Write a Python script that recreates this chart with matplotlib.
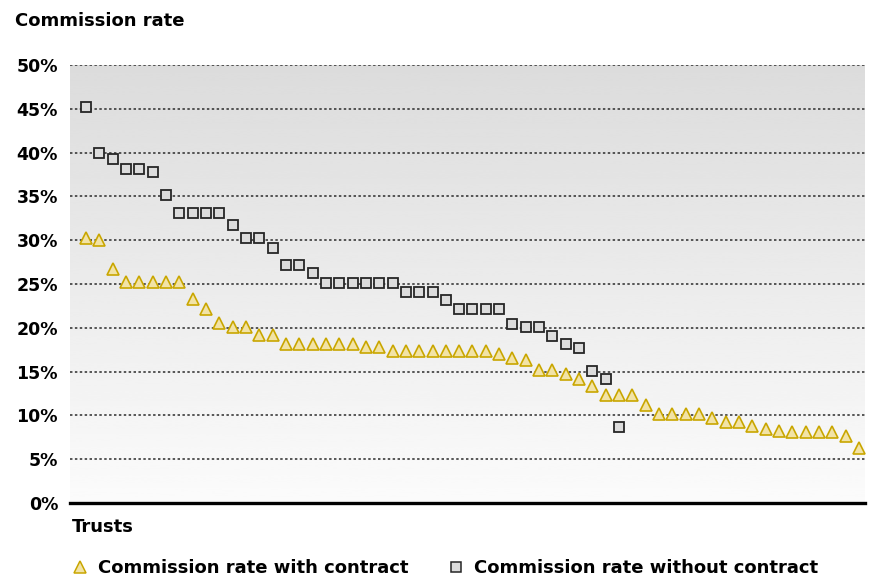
import numpy as np
import matplotlib
matplotlib.use("Agg")
import matplotlib.pyplot as plt
from matplotlib.lines import Line2D

plt.rcParams['font.family'] = ['DejaVu Sans']

# Commission rates (%) per trust, sorted within each series
with_contract = [30.3, 30.0, 26.7, 25.2, 25.2, 25.2, 25.2, 25.2, 23.25, 22.2,
                 20.6, 20.1, 20.1, 19.2, 19.2, 18.2, 18.2, 18.2, 18.2, 18.2,
                 18.2, 17.8, 17.8, 17.3, 17.3, 17.3, 17.3, 17.3, 17.3, 17.3,
                 17.3, 17.0, 16.5, 16.3, 15.2, 15.2, 14.7, 14.2, 13.3, 12.3,
                 12.3, 12.3, 11.15, 10.2, 10.2, 10.2, 10.2, 9.75, 9.25, 9.25,
                 8.8, 8.4, 8.2, 8.05, 8.05, 8.05, 8.05, 7.7, 6.3]
without_contract = [45.2, 39.9, 39.3, 38.1, 38.1, 37.8, 35.2, 33.1, 33.1, 33.1,
                    33.1, 31.7, 30.2, 30.2, 29.1, 27.2, 27.2, 26.2, 25.1, 25.1,
                    25.1, 25.1, 25.1, 25.1, 24.1, 24.1, 24.1, 23.2, 22.2, 22.2,
                    22.2, 22.2, 20.4, 20.1, 20.1, 19.1, 18.2, 17.7, 15.1, 14.15,
                    8.7]
y_ticks = [0, 5, 10, 15, 20, 25, 30, 35, 40, 45, 50]
y_tick_labels = [f"{t}%" for t in y_ticks]

label_with = "Commission rate with contract"
label_without = "Commission rate without contract"

W, H = 869, 579
fig = plt.figure(figsize=(W / 100, H / 100), dpi=100)
ax = fig.add_axes([70 / W, 1 - 503 / H, (865 - 70) / W, (503 - 65) / H])

x_with = np.arange(len(with_contract))
x_without = np.arange(len(without_contract))

X0, X1 = -1.2, 58.45

# vertical grey-to-white gradient behind the plot (darker at the top)
grad = np.linspace(0.862, 0.985, 256).reshape(-1, 1)
ax.imshow(grad, extent=[X0, X1, 0, 50], origin='upper', aspect='auto',
          cmap='gray', vmin=0, vmax=1, zorder=0, interpolation='bicubic')
ax.set_xlim(X0, X1)
ax.set_ylim(0, 50)

for t in y_ticks[1:]:
    ax.axhline(t, color='#2b2b2b', lw=1.1, ls=(0, (1.6, 1.6)), zorder=1)

tri_face = '#f2e3a6'
tri_edge = '#c9a600'
sq_face = '#dcdcdc'
sq_edge = '#262626'

ax.plot(x_without, without_contract, ls='none', marker='s', ms=7,
        mfc=sq_face, mec=sq_edge, mew=1.3, zorder=3)
ax.plot(x_with, with_contract, ls='none', marker='^', ms=9,
        mfc=tri_face, mec=tri_edge, mew=1.2, zorder=3)

for s in ['top', 'right', 'left']:
    ax.spines[s].set_visible(False)
ax.spines['bottom'].set_linewidth(2.4)
ax.spines['bottom'].set_color('black')
ax.spines['bottom'].set_zorder(4)

ax.set_xticks([])
ax.set_yticks(y_ticks)
ax.set_yticklabels(y_tick_labels, fontsize=12.5, fontweight='bold')
ax.tick_params(axis='y', length=0, pad=8.6)

fig.text(15 / W, 1 - 21 / H, "Commission rate", fontsize=13, fontweight='bold',
         va='center', ha='left')
fig.text(72 / W, 1 - 527 / H, "Trusts", fontsize=13, fontweight='bold',
         va='center', ha='left')

handles = [
    Line2D([], [], ls='none', marker='^', ms=8, mfc=tri_face, mec=tri_edge, mew=1.1),
    Line2D([], [], ls='none', marker='s', ms=6.5, mfc=sq_face, mec=sq_edge, mew=1.1),
]
fig.legend(handles, [label_with, label_without], loc='center left',
           bbox_to_anchor=(73 / W, 1 - 568 / H), ncol=2, frameon=False,
           prop={'size': 13, 'weight': 'bold'}, handlelength=0.8,
           handletextpad=0.6, columnspacing=2.2, borderaxespad=0, borderpad=0)

fig.savefig("out.png", dpi=100)
